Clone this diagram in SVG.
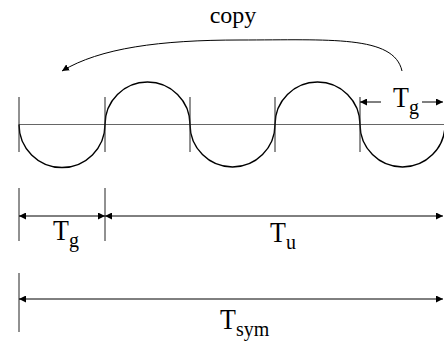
<svg xmlns="http://www.w3.org/2000/svg" width="444" height="349" viewBox="0 0 444 349">
<style>
.t{font-family:"Liberation Serif","Times New Roman",serif;font-size:26px;fill:#000}
.c{font-size:24px}
.s{font-size:20px}
.ln{stroke:#000;stroke-width:1;fill:none}
.wave{stroke:#000;stroke-width:1.4;fill:none}
.base{stroke:#666;stroke-width:1;fill:none}
.tick{stroke:#222;stroke-width:1;fill:none}
</style>
<defs>
<marker id="ah" viewBox="0 0 10 10" refX="10" refY="5" markerWidth="7" markerHeight="7" markerUnits="userSpaceOnUse" orient="auto-start-reverse">
<path d="M0,0 L10,5 L0,10 z" fill="#000"/>
</marker>
</defs>
<rect width="444" height="349" fill="#fff"/>
<g id="waveform">
<line class="base" x1="19" y1="124.5" x2="444" y2="124.5"/>
<path class="wave" d="M19,124.5 A42.75,42.75 0 0 0 105,124.5 A42.5,42.5 0 0 1 190,124.5 A42.5,42.5 0 0 0 275,124.5 A42.5,42.5 0 0 1 360,124.5 A42.5,42.5 0 0 0 445,124.5"/>
<g class="tick">
<line x1="19" y1="97" x2="19" y2="152"/>
<line x1="105" y1="97" x2="105" y2="152"/>
<line x1="190" y1="97" x2="190" y2="152"/>
<line x1="275" y1="97" x2="275" y2="152"/>
<line x1="360" y1="97" x2="360" y2="152"/>
</g>
</g>
<g id="connectors">
<path class="ln" d="M402,71 C394,35 330,40 240,40 C160,40 100,48 62,71" marker-end="url(#ah)"/>
<line class="ln" x1="381" y1="102" x2="360" y2="102" marker-end="url(#ah)"/>
<line class="ln" x1="422" y1="102" x2="443" y2="102" marker-end="url(#ah)"/>
<line class="tick" x1="19" y1="188" x2="19" y2="241"/>
<line class="tick" x1="105" y1="188" x2="105" y2="241"/>
<line class="ln" x1="19" y1="216" x2="105" y2="216" marker-start="url(#ah)" marker-end="url(#ah)"/>
<line class="ln" x1="105" y1="216" x2="443" y2="216" marker-start="url(#ah)" marker-end="url(#ah)"/>
<line class="tick" x1="19" y1="273" x2="19" y2="332"/>
<line class="ln" x1="19" y1="299" x2="443" y2="299" marker-start="url(#ah)" marker-end="url(#ah)"/>
</g>
<g id="label-copy"><text class="t c" x="233" y="23" text-anchor="middle">copy</text></g>
<g id="label-tg-top"><text class="t" transform="translate(393,107) scale(1,1.1)">T<tspan class="s" dy="6">g</tspan></text></g>
<g id="label-tg"><text class="t" transform="translate(53,240) scale(1,1.1)">T<tspan class="s" dy="6">g</tspan></text></g>
<g id="label-tu"><text class="t" transform="translate(270,242) scale(1,1.1)">T<tspan class="s" dy="6">u</tspan></text></g>
<g id="label-tsym"><text class="t" transform="translate(220,329) scale(1,1.1)">T<tspan class="s" dy="6">sym</tspan></text></g>
</svg>
